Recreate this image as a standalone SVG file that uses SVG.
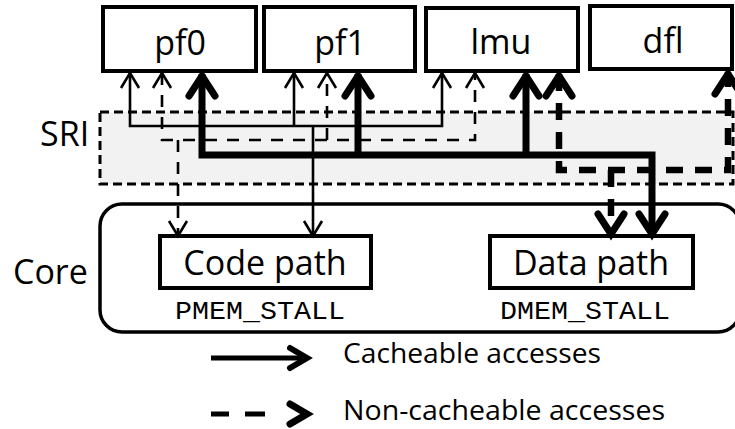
<svg xmlns="http://www.w3.org/2000/svg" width="735" height="429" viewBox="0 0 735 429">
<style>
.box{fill:#fff;stroke:#000;stroke-width:4}
.lbl{font-family:"Open Sans","Noto Sans",sans-serif;font-size:34px;fill:#000}
.leg{font-family:"Open Sans","Noto Sans",sans-serif;font-size:27px;fill:#000}
.mono{font-family:"Liberation Mono","DejaVu Sans Mono",monospace;font-size:25px;fill:#000}
.thin{fill:none;stroke:#000;stroke-width:2.6}
.thind{fill:none;stroke:#000;stroke-width:2.6;stroke-dasharray:12 10}
.thick{fill:none;stroke:#000;stroke-width:7}
.thickd{fill:none;stroke:#000;stroke-width:6.5;stroke-dasharray:17 12}
</style>
<defs>
<marker id="ah-thin" markerUnits="userSpaceOnUse" viewBox="-20 -12 24 24" refX="0" refY="0" markerWidth="24" markerHeight="24" orient="auto-start-reverse" overflow="visible">
<path d="M-15,-9 L0,0 L-15,9" fill="none" stroke="#000" stroke-width="2.6" stroke-linejoin="miter"/>
</marker>
<marker id="ah-thick" markerUnits="userSpaceOnUse" viewBox="-30 -18 34 36" refX="0" refY="0" markerWidth="34" markerHeight="36" orient="auto-start-reverse" overflow="visible">
<path d="M-22,-13 L-2,0 L-22,13" fill="none" stroke="#000" stroke-width="7" stroke-linecap="round" stroke-linejoin="miter"/>
</marker>
</defs>

<g id="sri">
<rect x="100" y="112" width="633" height="72" fill="#f2f2f2" stroke="#000" stroke-width="3" stroke-dasharray="9 5"/>
<text class="lbl" x="40" y="146">SRI</text>
</g>

<g id="core">
<rect x="100" y="204" width="640" height="128" rx="22" ry="22" fill="none" stroke="#000" stroke-width="3.5"/>
<text class="lbl" x="13" y="284">Core</text>
</g>

<g id="pf0">
<rect class="box" x="103" y="7" width="153" height="64"/>
<text class="lbl" x="180" y="55" text-anchor="middle">pf0</text>
</g>
<g id="pf1">
<rect class="box" x="264" y="7" width="151" height="64"/>
<text class="lbl" x="340" y="55" text-anchor="middle">pf1</text>
</g>
<g id="lmu">
<rect class="box" x="426" y="8" width="152" height="63"/>
<text class="lbl" x="501" y="54" text-anchor="middle">lmu</text>
</g>
<g id="dfl">
<rect class="box" x="590" y="6" width="142" height="63"/>
<text class="lbl" x="663" y="53" text-anchor="middle">dfl</text>
</g>

<g id="codepath">
<rect class="box" x="160" y="236" width="211" height="52"/>
<text class="lbl" x="265" y="275" text-anchor="middle">Code path</text>
<text class="mono" x="260" y="319" text-anchor="middle" textLength="170" lengthAdjust="spacingAndGlyphs">PMEM_STALL</text>
</g>
<g id="datapath">
<rect class="box" x="490" y="236" width="203" height="52"/>
<text class="lbl" x="591" y="275" text-anchor="middle">Data path</text>
<text class="mono" x="585" y="319" text-anchor="middle" textLength="170" lengthAdjust="spacingAndGlyphs">DMEM_STALL</text>
</g>

<g id="connectors">
<path class="thin" d="M130,73 V126 H442 V73" marker-start="url(#ah-thin)" marker-end="url(#ah-thin)"/>
<path class="thin" d="M294,126 V73" marker-end="url(#ah-thin)"/>
<path class="thin" d="M313,126 V236" marker-end="url(#ah-thin)"/>
<path class="thind" d="M162,73 V140 H475 V73" marker-start="url(#ah-thin)" marker-end="url(#ah-thin)"/>
<path class="thind" d="M327,140 V73" marker-end="url(#ah-thin)"/>
<path class="thind" d="M178,140 V236" marker-end="url(#ah-thin)"/>
<path class="thick" d="M202,74 V155 H652 V236" marker-start="url(#ah-thick)" marker-end="url(#ah-thick)"/>
<path class="thick" d="M358,155 V74" marker-end="url(#ah-thick)"/>
<path class="thick" d="M526,155 V74" marker-end="url(#ah-thick)"/>
<path class="thickd" d="M559,74 V170 H728 V72" marker-start="url(#ah-thick)" marker-end="url(#ah-thick)"/>
<path class="thickd" d="M611,170 V236" marker-end="url(#ah-thick)"/>
</g>

<g id="legend">
<path d="M211,358 H308" fill="none" stroke="#000" stroke-width="5"/>
<path d="M290,348 L307,358 L290,368" fill="none" stroke="#000" stroke-width="6" stroke-linecap="round"/>
<path d="M211,414 H229 M245,414 H265" fill="none" stroke="#000" stroke-width="5"/>
<path d="M290,404 L307,414 L290,424" fill="none" stroke="#000" stroke-width="7" stroke-linecap="round"/>
<text class="leg" x="343" y="363" textLength="258" lengthAdjust="spacingAndGlyphs">Cacheable accesses</text>
<text class="leg" x="343" y="420" textLength="322" lengthAdjust="spacingAndGlyphs">Non-cacheable accesses</text>
</g>
</svg>
